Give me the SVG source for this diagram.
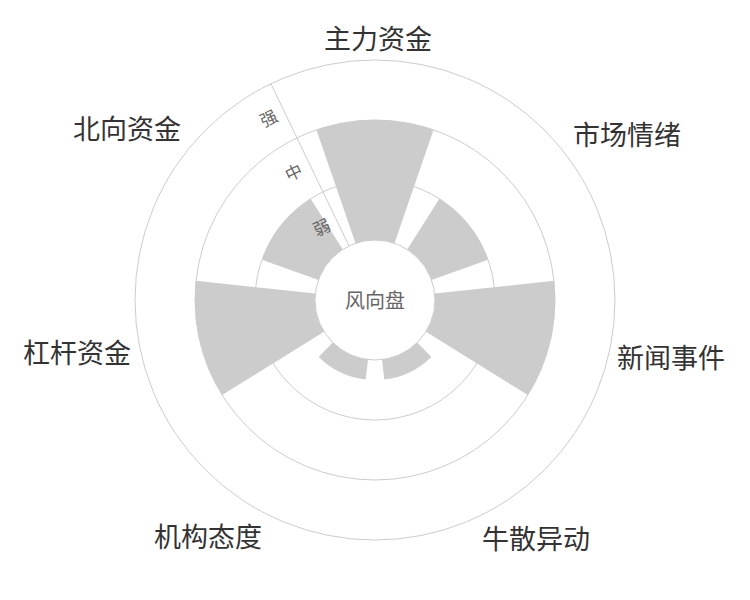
<svg xmlns="http://www.w3.org/2000/svg" width="750" height="600" viewBox="0 0 750 600">
<style>
.ring{fill:none;stroke:#cccccc;stroke-width:1}
.bar{fill:#cccccc}
.lab{font-family:"Liberation Sans","Noto Sans CJK SC",sans-serif;font-size:27px;fill:#333;text-anchor:middle;dominant-baseline:central}
.ax{font-family:"Liberation Sans","Noto Sans CJK SC",sans-serif;font-size:17px;fill:#666;text-anchor:middle;dominant-baseline:central}
</style>
<rect width="750" height="600" fill="#fff"/>
<g id="grid">
<circle class="ring" cx="375" cy="300" r="240"/>
<circle class="ring" cx="375" cy="300" r="180"/>
<circle class="ring" cx="375" cy="300" r="120"/>
<circle class="ring" cx="375" cy="300" r="60"/>
</g>
<g id="bars">
<path class="bar" d="M316.4,129.8 A180,180 0 0 1 433.6,129.8 L394.5,243.3 A60,60 0 0 0 355.5,243.3 Z"/>
<path class="bar" d="M439.4,198.7 A120,120 0 0 1 488.1,259.8 L431.5,279.9 A60,60 0 0 0 407.2,249.4 Z"/>
<path class="bar" d="M554.0,280.7 A180,180 0 0 1 527.9,395.0 L426.0,331.7 A60,60 0 0 0 434.7,293.6 Z"/>
<path class="bar" d="M431.3,356.9 A80,80 0 0 1 384.3,379.5 L382.0,359.6 A60,60 0 0 0 417.2,342.6 Z"/>
<path class="bar" d="M365.7,379.5 A80,80 0 0 1 318.7,356.9 L332.8,342.6 A60,60 0 0 0 368.0,359.6 Z"/>
<path class="bar" d="M222.1,395.0 A180,180 0 0 1 196.0,280.7 L315.3,293.6 A60,60 0 0 0 324.0,331.7 Z"/>
<path class="bar" d="M261.9,259.8 A120,120 0 0 1 310.6,198.7 L342.8,249.4 A60,60 0 0 0 318.5,279.9 Z"/>
</g>
<g id="connectors">
<line x1="349.0" y1="245.9" x2="270.9" y2="83.8" stroke="#cccccc" stroke-width="1"/>
</g>
<g id="axis-labels">
<text class="ax" transform="translate(322,228) rotate(-25.7)">弱</text>
<text class="ax" transform="translate(294,173) rotate(-25.7)">中</text>
<text class="ax" transform="translate(269,119) rotate(-25.7)">强</text>
</g>
<g id="center"><text class="ax" x="375" y="301" style="font-size:20px">风向盘</text></g>
<g id="labels">
<text class="lab" x="378" y="40">主力资金</text>
<text class="lab" x="627" y="136">市场情绪</text>
<text class="lab" x="671" y="359">新闻事件</text>
<text class="lab" x="536" y="540">牛散异动</text>
<text class="lab" x="208" y="538">机构态度</text>
<text class="lab" x="77" y="354">杠杆资金</text>
<text class="lab" x="127" y="130">北向资金</text>
</g>
</svg>
